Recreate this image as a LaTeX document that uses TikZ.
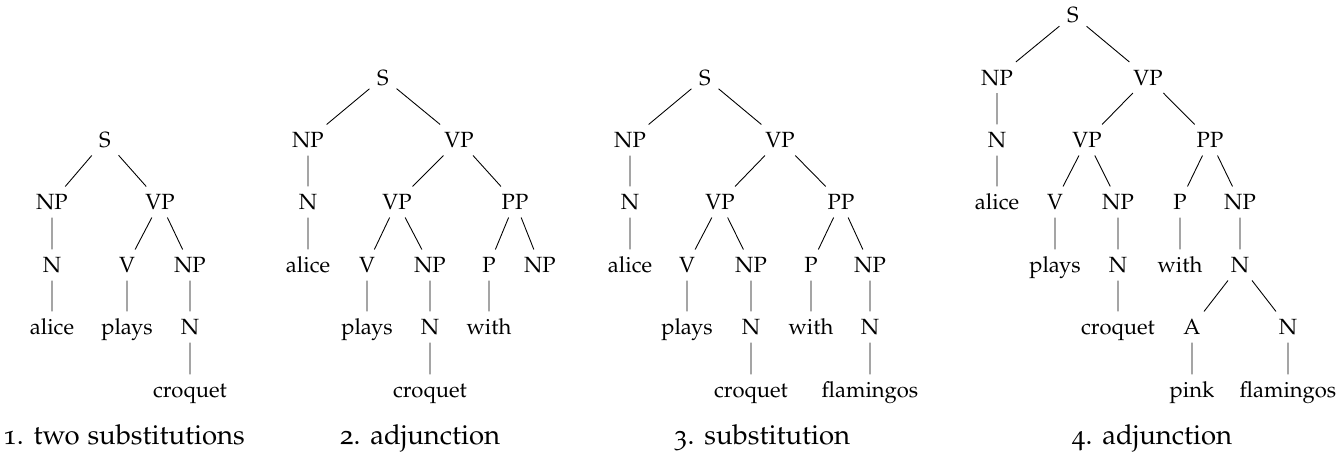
\documentclass[tikz,border=0pt]{standalone}
\usepackage[T1]{fontenc}
\usepackage[osf]{mathpazo}
\tikzset{
  tn/.style={inner sep=.3333em, text height=1.5ex, text depth=0pt, font=\fontsize{10}{12}\selectfont},
  te/.style={draw, line width=0.4pt},
  capt/.style={anchor=base, inner sep=0pt, font=\fontsize{12.5}{15}\selectfont}
}
\def\LA{15}\def\LB{77.5}\def\LC{140}\def\LD{202}\def\LE{265}\def\LF{327}\def\LG{390}
\begin{document}
\begin{tikzpicture}[x=0.4545pt,y=-0.4545pt]
\useasboundingbox (0,0) rectangle (1341,455);
% ---------- tree 1
\node[tn] (aS) at (105,\LC) {S};
\node[tn] (aNP) at (52,\LD) {NP};
\node[tn] (aVP) at (160,\LD) {VP};
\node[tn] (aN) at (52,\LE) {N};
\node[tn] (aV) at (127,\LE) {V};
\node[tn] (aNPb) at (190,\LE) {NP};
\node[tn] (aalice) at (52,\LF) {alice};
\node[tn] (aplays) at (127,\LF) {plays};
\node[tn] (aNb) at (190,\LF) {N};
\node[tn] (acroquet) at (190,\LG) {croquet};
\path[te] (aS)--(aNP) (aS)--(aVP) (aNP)--(aN) (aN)--(aalice)
  (aVP)--(aV) (aVP)--(aNPb) (aV)--(aplays) (aNPb)--(aNb) (aNb)--(acroquet);
\node[capt] (cap1) at (124,445) {1. two substitutions};
% ---------- tree 2
\node[tn] (bS) at (383,\LB) {S};
\node[tn] (bNP) at (308,\LC) {NP};
\node[tn] (bVP) at (459,\LC) {VP};
\node[tn] (bN) at (308,\LD) {N};
\node[tn] (bVPb) at (397,\LD) {VP};
\node[tn] (bPP) at (515,\LD) {PP};
\node[tn] (balice) at (308,\LE) {alice};
\node[tn] (bV) at (367,\LE) {V};
\node[tn] (bNPb) at (430,\LE) {NP};
\node[tn] (bP) at (489,\LE) {P};
\node[tn] (bNPc) at (540,\LE) {NP};
\node[tn] (bplays) at (367,\LF) {plays};
\node[tn] (bNb) at (430,\LF) {N};
\node[tn] (bwith) at (489,\LF) {with};
\node[tn] (bcroquet) at (430,\LG) {croquet};
\path[te] (bS)--(bNP) (bS)--(bVP) (bNP)--(bN) (bN)--(balice)
  (bVP)--(bVPb) (bVP)--(bPP) (bVPb)--(bV) (bVPb)--(bNPb)
  (bPP)--(bP) (bPP)--(bNPc) (bV)--(bplays) (bNPb)--(bNb) (bP)--(bwith)
  (bNb)--(bcroquet);
\node[capt] (cap2) at (420,445) {2. adjunction};
% ---------- tree 3
\node[tn] (cS) at (705,\LB) {S};
\node[tn] (cNP) at (630,\LC) {NP};
\node[tn] (cVP) at (780,\LC) {VP};
\node[tn] (cN) at (630,\LD) {N};
\node[tn] (cVPb) at (720,\LD) {VP};
\node[tn] (cPP) at (841,\LD) {PP};
\node[tn] (calice) at (630,\LE) {alice};
\node[tn] (cV) at (687,\LE) {V};
\node[tn] (cNPb) at (751,\LE) {NP};
\node[tn] (cP) at (811,\LE) {P};
\node[tn] (cNPc) at (870,\LE) {NP};
\node[tn] (cplays) at (687,\LF) {plays};
\node[tn] (cNb) at (751,\LF) {N};
\node[tn] (cwith) at (811,\LF) {with};
\node[tn] (cNc) at (870,\LF) {N};
\node[tn] (ccroquet) at (751,\LG) {croquet};
\node[tn] (cflamingos) at (870,\LG) {flamingos};
\path[te] (cS)--(cNP) (cS)--(cVP) (cNP)--(cN) (cN)--(calice)
  (cVP)--(cVPb) (cVP)--(cPP) (cVPb)--(cV) (cVPb)--(cNPb)
  (cPP)--(cP) (cPP)--(cNPc) (cV)--(cplays) (cNPb)--(cNb) (cP)--(cwith)
  (cNPc)--(cNc) (cNb)--(ccroquet) (cNc)--(cflamingos);
\node[capt] (cap3) at (762,445) {3. substitution};
% ---------- tree 4
\node[tn] (dS) at (1073,\LA) {S};
\node[tn] (dNP) at (997,\LB) {NP};
\node[tn] (dVP) at (1148,\LB) {VP};
\node[tn] (dN) at (997,\LC) {N};
\node[tn] (dVPb) at (1087,\LC) {VP};
\node[tn] (dPP) at (1210,\LC) {PP};
\node[tn] (dalice) at (997,\LD) {alice};
\node[tn] (dV) at (1055,\LD) {V};
\node[tn] (dNPb) at (1118,\LD) {NP};
\node[tn] (dP) at (1180,\LD) {P};
\node[tn] (dNPc) at (1240,\LD) {NP};
\node[tn] (dplays) at (1055,\LE) {plays};
\node[tn] (dNb) at (1118,\LE) {N};
\node[tn] (dwith) at (1180,\LE) {with};
\node[tn] (dNc) at (1240,\LE) {N};
\node[tn] (dcroquet) at (1118,\LF) {croquet};
\node[tn] (dA) at (1192,\LF) {A};
\node[tn] (dNd) at (1288,\LF) {N};
\node[tn] (dpink) at (1192,\LG) {pink};
\node[tn] (dflamingos) at (1288,\LG) {flamingos};
\path[te] (dS)--(dNP) (dS)--(dVP) (dNP)--(dN) (dN)--(dalice)
  (dVP)--(dVPb) (dVP)--(dPP) (dVPb)--(dV) (dVPb)--(dNPb)
  (dPP)--(dP) (dPP)--(dNPc) (dV)--(dplays) (dNPb)--(dNb) (dP)--(dwith)
  (dNPc)--(dNc) (dNb)--(dcroquet) (dNc)--(dA) (dNc)--(dNd)
  (dA)--(dpink) (dNd)--(dflamingos);
\node[capt] (cap4) at (1152,445) {4. adjunction};
\end{tikzpicture}
\end{document}
